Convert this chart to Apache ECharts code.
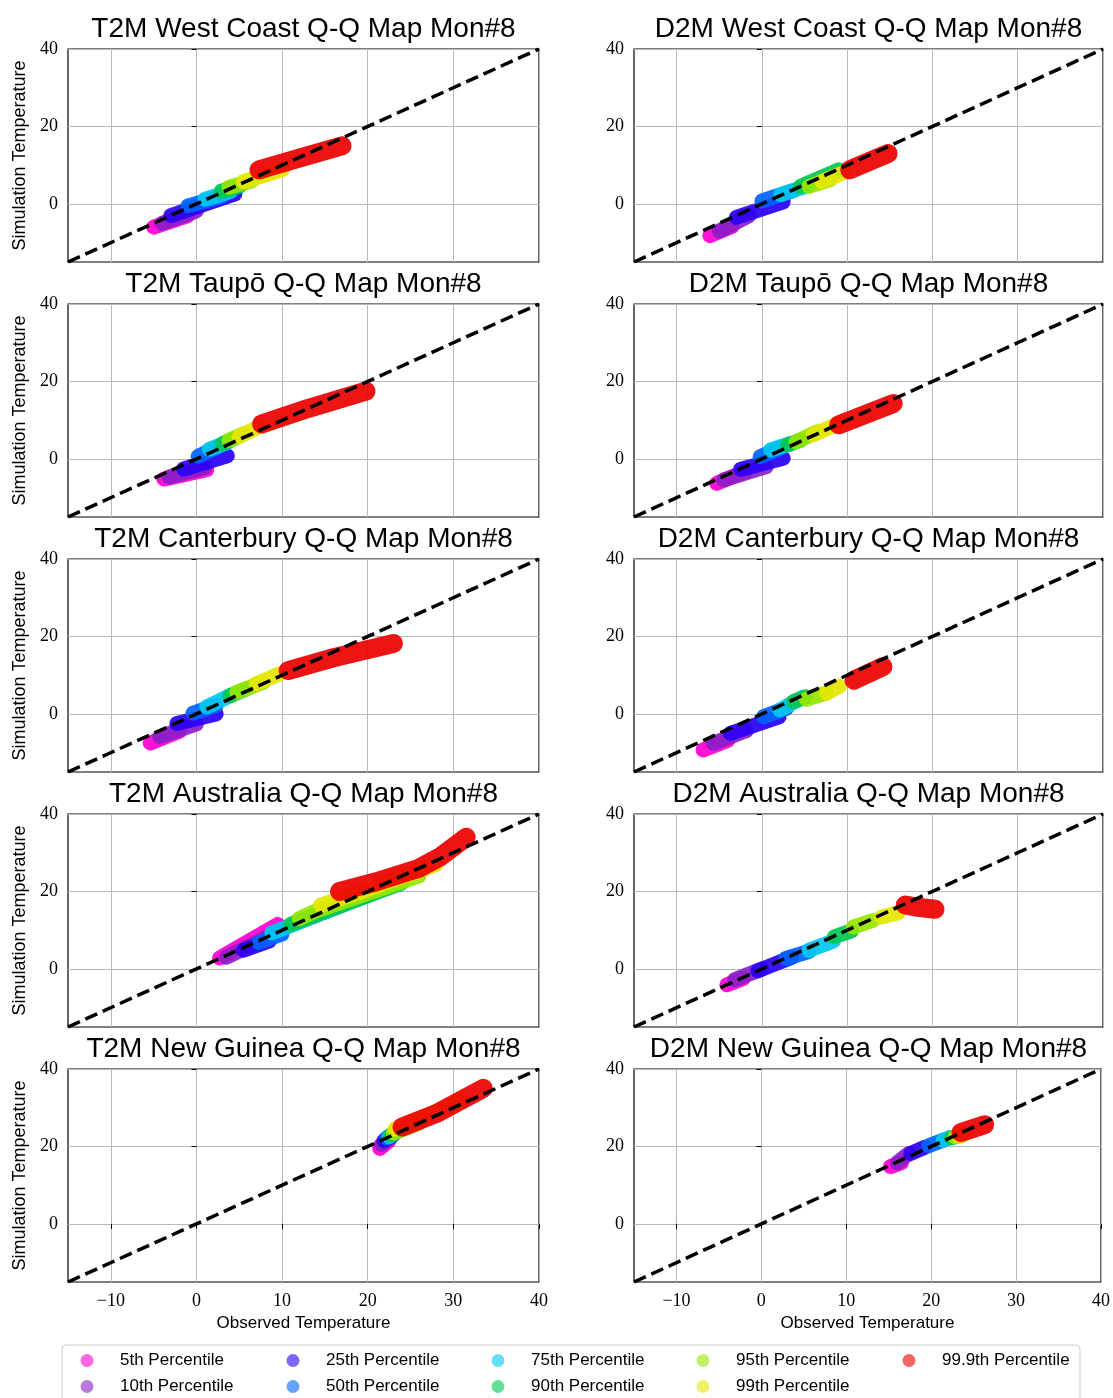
<!DOCTYPE html>
<html>
<head>
<meta charset="utf-8">
<script src="https://cdn.jsdelivr.net/npm/echarts@6/dist/echarts.min.js"></script>
<style>
  html, body { margin: 0; padding: 0; background: #fff; }
  #chart { width: 1113px; height: 1398px; }
</style>
</head>
<body>
<div id="chart"></div>
<script>
// percentile classes and their colours
const pctNames = ["5th Percentile", "10th Percentile", "25th Percentile", "50th Percentile",
  "75th Percentile", "90th Percentile", "95th Percentile", "99th Percentile", "99.9th Percentile"];
const pctColors = ["#ff00d0", "#8c1ec8", "#2a00f5", "#0064ff", "#00c8f0",
  "#00c850", "#96e600", "#e6e600", "#eb0000"];

const xTicks = [-10, 0, 10, 20, 30, 40];
const yTicks = [0, 20, 40];
const diagonal = [[-15, -15], [40, 40]];

const panelTitles = [
  "T2M West Coast Q-Q Map Mon#8", "D2M West Coast Q-Q Map Mon#8",
  "T2M Taupō Q-Q Map Mon#8", "D2M Taupō Q-Q Map Mon#8",
  "T2M Canterbury Q-Q Map Mon#8", "D2M Canterbury Q-Q Map Mon#8",
  "T2M Australia Q-Q Map Mon#8", "D2M Australia Q-Q Map Mon#8",
  "T2M New Guinea Q-Q Map Mon#8", "D2M New Guinea Q-Q Map Mon#8"
];

// bands per panel: one list of [observed, simulated] per percentile (5th .. 99.9th)
const t2mWestCoast = [
  [[-5, -6], [-1, -3]],
  [[-4, -5], [0, -1.8]],
  [[-3, -3], [4.5, 2.6]],
  [[-1, -0.5], [3, 2]],
  [[1, 1.2], [4, 3.2]],
  [[2.9, 3.3], [5, 4.5]],
  [[3.8, 4.3], [6.5, 6]],
  [[5.5, 5.8], [10, 8.8]],
  [[7.3, 8.8], [12, 11.8], [17, 15]]
];
const d2mWestCoast = [
  [[-6.1, -8.2], [-3.5, -5.8]],
  [[-5, -7], [-1.5, -3]],
  [[-3, -3.5], [2.5, 0.5]],
  [[0, 0.8], [3.5, 3.3]],
  [[2.2, 2.4], [5.5, 4.8]],
  [[4.5, 4.5], [9, 8.8]],
  [[5.5, 4.5], [8, 6.3]],
  [[7, 5.8], [9.5, 8]],
  [[10.3, 8.8], [14.8, 13]]
];
const t2mTaupo = [
  [[-3.8, -5.2], [1.2, -2.8]],
  [[-3.2, -4.7], [1, -2.2]],
  [[-1.5, -2.6], [3.6, 0.8]],
  [[0.2, 0.7], [2.7, 3.3]],
  [[1.5, 2.5], [3.6, 4.2]],
  [[3, 3.9], [4.7, 5.6]],
  [[3.8, 4.8], [5.5, 6.5]],
  [[5, 5.8], [7.5, 8.5]],
  [[7.6, 9], [13, 13], [19.8, 17.5]]
];
const d2mTaupo = [
  [[-5.3, -6.3], [-1.8, -3]],
  [[-4.5, -5.4], [0.5, -2]],
  [[-2.5, -2.7], [2.5, 0.2]],
  [[-0.2, 0.6], [2.2, 2.8]],
  [[1, 2.3], [3.4, 4]],
  [[3, 3.6], [4.6, 4.9]],
  [[4, 4.4], [6.5, 7]],
  [[6, 6.2], [8.8, 9]],
  [[9, 8.8], [15.4, 14.3]]
];
const t2mCanterbury = [
  [[-5.4, -7.5], [-2, -4.5]],
  [[-4.3, -5.9], [0, -2.6]],
  [[-2.3, -2.5], [2.3, 0]],
  [[-0.4, 0.2], [2.3, 2.2]],
  [[1.2, 1.8], [3.9, 4.7]],
  [[3.9, 4.7], [5.8, 6.4]],
  [[4.7, 5.6], [7.8, 8.2]],
  [[7, 7.8], [9.7, 10.3]],
  [[10.7, 11.2], [16, 14.5], [23, 18.2]]
];
const d2mCanterbury = [
  [[-6.9, -9.3], [-4, -6.8]],
  [[-5.7, -7.6], [-1.8, -4.3]],
  [[-3.7, -5], [2, -0.8]],
  [[0.2, -0.7], [2.9, 1.5]],
  [[2.1, 1], [4.8, 4.3]],
  [[3.7, 3.2], [5.2, 4.4]],
  [[5.2, 3.8], [7.6, 5.4]],
  [[7.6, 5.4], [9.1, 7.1]],
  [[10.8, 8.7], [14.2, 12.2]]
];
const t2mAustralia = [
  [[2.7, 2.8], [9.5, 11.5]],
  [[3.5, 3], [9.5, 9.5]],
  [[5.5, 4.8], [8.5, 7.2]],
  [[7.3, 6.8], [10, 9]],
  [[8.8, 9.3], [20, 19]],
  [[11, 11.5], [24, 22.2]],
  [[12, 13], [14, 15], [26, 24]],
  [[14.5, 16.5], [20, 20.5], [28, 27]],
  [[16.7, 20], [21, 22.5], [26, 26], [28.5, 29], [31.5, 34]]
];
const d2mAustralia = [
  [[-4.1, -4.1], [-2.2, -2.5]],
  [[-3.2, -2.8], [0, 0]],
  [[-0.5, -0.5], [3.5, 3]],
  [[2.8, 2.7], [5.5, 4.5]],
  [[5.5, 4.8], [8.4, 7.2]],
  [[8.5, 8.3], [10.5, 9.8]],
  [[10.7, 10.8], [13, 12.5]],
  [[14, 13.4], [16, 14.5]],
  [[16.8, 16.5], [18, 16], [20.3, 15.4]]
];
const t2mNewGuinea = [
  [[21.4, 19.5], [22.5, 21.5]],
  [[21.6, 20.5], [22.5, 22]],
  [[21.9, 21.5], [23, 23]],
  [[22.2, 22.2], [23.2, 23.5]],
  [[22.5, 22.5], [23.5, 24]],
  [[22.7, 23], [24, 24.5]],
  [[23, 23.5], [26, 26]],
  [[23.2, 24.5], [31, 31.8]],
  [[24, 25], [28, 28.5], [33.5, 35]]
];
const d2mNewGuinea = [
  [[15.2, 14.8], [16.5, 15.8]],
  [[16, 15.8], [17.4, 18.2]],
  [[17.6, 18.2], [19.3, 19.8]],
  [[19.7, 20.2], [21.4, 21.6]],
  [[21.4, 21.6], [22.2, 22.3]],
  [[22.4, 22.2], [23, 22.6]],
  [[22.8, 22.5], [23.6, 22.8]],
  [[23.2, 22.8], [24, 23.2]],
  [[23.5, 23.6], [26.3, 25.6]]
];

const panels = [t2mWestCoast, d2mWestCoast, t2mTaupo, d2mTaupo, t2mCanterbury,
  d2mCanterbury, t2mAustralia, d2mAustralia, t2mNewGuinea, d2mNewGuinea];

const chart = echarts.init(document.getElementById("chart"));

const sans = '"Liberation Sans", Arial, sans-serif';
const serif = '"Liberation Serif", "DejaVu Serif", serif';

const colLeft = [68, 634];
const colWidth = [471, 469];
const rowTop0 = 49;
const rowStep = 255;
const plotH = 213;

const grids = [], xAxes = [], yAxes = [], series = [], graphics = [];

panels.forEach((bands, i) => {
  const col = i % 2;
  const row = Math.floor(i / 2);
  const bottomRow = row === 4;
  const top = rowTop0 + row * rowStep;

  grids.push({
    left: colLeft[col], top: top, width: colWidth[col], height: plotH,
    show: true, borderColor: "#000", borderWidth: 1.2, backgroundColor: "transparent"
  });

  xAxes.push({
    type: "value", gridIndex: i, min: -15, max: 40,
    axisLine: { show: false },
    axisTick: { show: bottomRow, customValues: xTicks, length: 5, lineStyle: { color: "#000" } },
    axisLabel: {
      show: bottomRow, customValues: xTicks, margin: 10,
      fontFamily: serif, fontSize: 18, color: "#000",
      formatter: v => String(v).replace("-", "\u2212")
    },
    splitLine: { show: true, lineStyle: { color: "#b8b8b8", width: 1 } },
    name: bottomRow ? "Observed Temperature" : "",
    nameLocation: "middle", nameGap: 33,
    nameTextStyle: { fontFamily: sans, fontSize: 17, color: "#000" }
  });

  yAxes.push({
    type: "value", gridIndex: i, min: -15, max: 40,
    axisLine: { show: false },
    axisTick: { show: true, customValues: yTicks, length: 5, lineStyle: { color: "#000" } },
    axisLabel: {
      customValues: yTicks, margin: 10,
      fontFamily: serif, fontSize: 18, color: "#000"
    },
    splitLine: { show: true, lineStyle: { color: "#b8b8b8", width: 1 } },
    name: col === 0 ? "Simulation Temperature" : "",
    nameLocation: "middle", nameGap: 39,
    nameTextStyle: { fontFamily: sans, fontSize: 18, color: "#000" }
  });

  bands.forEach((pts, j) => {
    series.push({
      type: "line", name: pctNames[j], xAxisIndex: i, yAxisIndex: i,
      data: pts, symbol: "none", showSymbol: false, silent: true,
      color: pctColors[j],
      itemStyle: { color: pctColors[j] },
      lineStyle: { color: pctColors[j], width: j === 8 ? 19 : 15, cap: "round", join: "round", opacity: 0.92 },
      z: 2
    });
  });

  series.push({
    type: "line", name: "diag", xAxisIndex: i, yAxisIndex: i,
    data: diagonal, symbol: "none", silent: true,
    lineStyle: { color: "#000", width: 3.5, type: [13, 6] },
    z: 5
  });

  graphics.push({
    type: "text",
    x: colLeft[col] + colWidth[col] / 2,
    y: 29 + row * rowStep,
    style: {
      text: panelTitles[i], fill: "#000",
      font: '28px "Liberation Sans", Arial, sans-serif',
      align: "center", verticalAlign: "middle"
    }
  });
});

// legend frame
graphics.push({
  type: "rect", z: 0,
  shape: { x: 62, y: 1345, width: 1018, height: 70, r: 4 },
  style: { fill: "#fff", stroke: "#cccccc", lineWidth: 1 }
});

const legendCols = [[0, 1], [2, 3], [4, 5], [6, 7], [8]];
const legendCenters = [87, 293, 498, 703, 909];
const legends = legendCols.map((idx, k) => ({
  data: idx.map(j => pctNames[j]),
  orient: "vertical",
  left: legendCenters[k] - 6.5, top: 1352, height: 80, padding: 0,
  icon: "circle", itemWidth: 56, itemHeight: 13, itemGap: 9,
  itemStyle: { opacity: 0.6 },
  selectedMode: false, z: 10,
  textStyle: { fontFamily: sans, fontSize: 17, color: "#000" }
}));

chart.setOption({
  animation: false,
  backgroundColor: "#fff",
  grid: grids,
  xAxis: xAxes,
  yAxis: yAxes,
  legend: legends,
  graphic: graphics,
  series: series
});
</script>
</body>
</html>
